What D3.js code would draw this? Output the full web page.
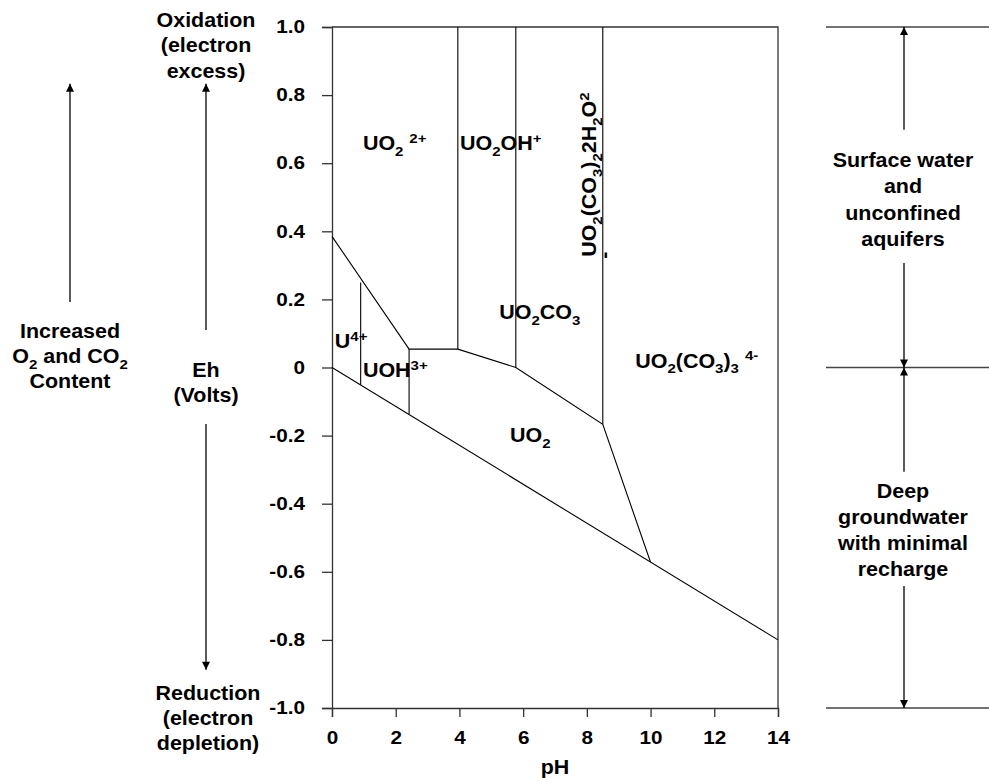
<!DOCTYPE html>
<html>
<head>
<meta charset="utf-8">
<script src="https://cdn.jsdelivr.net/npm/d3@7"></script>
<style>
  body { margin: 0; background: #fff; }
  svg text { font-family: "Liberation Sans", Arial, Helvetica, sans-serif; font-weight: bold; fill: #000; }
</style>
</head>
<body>
<div id="chart"></div>
<script>
// axis ticks
var phTicks = [0, 2, 4, 6, 8, 10, 12, 14];
var ehTicks = [1.0, 0.8, 0.6, 0.4, 0.2, 0, -0.2, -0.4, -0.6, -0.8, -1.0];

// stability field boundaries, [pH, Eh]
var waterLine = [[0, 0], [14, -0.8]];
var upperBoundary = [[0, 0.385], [2.42, 0.054], [3.95, 0.054], [5.77, 0], [8.5, -0.167], [10, -0.572]];
var verticalBounds = [
    [[0.9, 0.25], [0.9, -0.051]],
    [[2.42, 0.054], [2.42, -0.138]],
    [[3.95, 0.054], [3.95, 1.0]],
    [[5.77, 0], [5.77, 1.0]],
    [[8.5, -0.167], [8.5, 1.0]]
];

// species labels: pH, Eh, parts ([text, "", "sub" or "sup"])
var speciesLabels = [
    { ph: 0.97, eh: 0.639, parts: [["UO"], ["2", "sub"], [" "], ["2+", "sup"]] },
    { ph: 4.02, eh: 0.639, parts: [["UO"], ["2", "sub"], ["OH"], ["+", "sup"]] },
    { ph: 0.09, eh: 0.057, parts: [["U"], ["4+", "sup"]] },
    { ph: 0.97, eh: -0.028, parts: [["UOH"], ["3+", "sup"]] },
    { ph: 5.25, eh: 0.142, parts: [["UO"], ["2", "sub"], ["CO"], ["3", "sub"]] },
    { ph: 5.59, eh: -0.219, parts: [["UO"], ["2", "sub"]] },
    { ph: 9.52, eh: 0.0, parts: [["UO"], ["2", "sub"], ["(CO"], ["3", "sub"], [")"], ["3", "sub"], [" "], ["4-", "sup"]] }
];
var rotatedLabel = { ph: 8.3, eh: 0.325, parts: [["UO"], ["2", "sub"], ["(CO"], ["3", "sub"], [")"], ["2", "sub"], ["2H"], ["2", "sub"], ["O"], ["2", "sup"]] };

// side annotations
var leftBlocks = [
    { x: 206, lines: [[["Oxidation"]], [["(electron"]], [["excess)"]]], base: [27, 52, 78] },
    { x: 70, lines: [[["Increased"]], [["O"], ["2", "sub"], [" and CO"], ["2", "sub"]], [["Content"]]], base: [338, 363, 388] },
    { x: 206, lines: [[["Eh"]], [["(Volts)"]]], base: [377, 402] },
    { x: 208, lines: [[["Reduction"]], [["(electron"]], [["depletion)"]]], base: [700, 725, 750] },
    { x: 903, lines: [[["Surface water"]], [["and"]], [["unconfined"]], [["aquifers"]]], base: [167, 193, 220, 246] },
    { x: 903, lines: [[["Deep"]], [["groundwater"]], [["with minimal"]], [["recharge"]]], base: [498, 524, 550, 576] }
];
// arrows as [x, fromEh, toEh]
var sideArrows = [
    [70, 0.192, 0.833],
    [206, 0.11, 0.833],
    [206, -0.166, -0.888],
    [904, 0.698, 1.0],
    [904, 0.307, 0.0],
    [904, -0.306, 0.0],
    [904, -0.642, -1.0]
];
var zoneLines = [1.0, 0, -1.0];

var W = 989, H = 778;
var margin = { top: 27, left: 332, right: 211, bottom: 70 };
var fontSize = 19.5, stretch = 1.1;

var svg = d3.select("#chart").append("svg")
    .attr("width", W)
    .attr("height", H);

var x = d3.scaleLinear().domain([0, 14]).range([margin.left, W - margin.right]);
var y = d3.scaleLinear().domain([-1, 1]).range([H - margin.bottom, margin.top]);

// arrow marker
svg.append("defs").append("marker")
    .attr("id", "head")
    .attr("viewBox", "0 0 10 10")
    .attr("refX", 10).attr("refY", 5)
    .attr("markerWidth", 10).attr("markerHeight", 8)
    .attr("markerUnits", "userSpaceOnUse")
    .attr("orient", "auto")
    .append("path")
    .attr("d", "M0,0 L10,5 L0,10 Z")
    .attr("fill", "#000");

function addParts(t, parts, size) {
    var shift = 0;
    parts.forEach(function(p) {
        var kind = p[1] || "";
        var target = kind == "sub" ? size * 0.3 : kind == "sup" ? -size * 0.38 : 0;
        t.append("tspan")
            .attr("dy", target - shift)
            .style("font-size", kind ? (size * 0.7) + "px" : size + "px")
            .text(p[0]);
        shift = target;
    });
}

function label(g, px, py, parts, anchor, rotate) {
    var t = g.append("text")
        .attr("transform", "translate(" + px + "," + py + ")" + (rotate ? " rotate(" + rotate + ")" : "") + " scale(" + stretch + ",1)")
        .attr("text-anchor", anchor || "start");
    addParts(t, parts, fontSize);
    return t;
}

// axes
var yAxis = d3.axisLeft(y)
    .tickValues(ehTicks)
    .tickSize(10)
    .tickPadding(0)
    .tickFormat(function(d) { return d === 0 ? "0" : d.toFixed(1); });

var xAxis = d3.axisBottom(x)
    .tickValues(phTicks)
    .tickSize(9)
    .tickPadding(14);

var gy = svg.append("g")
    .attr("transform", "translate(" + margin.left + ",0)")
    .call(yAxis);
gy.selectAll("text")
    .attr("x", 0)
    .attr("transform", "translate(-27,0) scale(1.15,1)");

var gx = svg.append("g")
    .attr("transform", "translate(0," + (H - margin.bottom) + ")")
    .call(xAxis);
gx.selectAll("text")
    .attr("transform", "scale(1.15,1)");

svg.selectAll(".tick text")
    .style("font-size", "18px")
    .style("font-family", "'Liberation Sans', Arial, sans-serif")
    .style("font-weight", "bold");
svg.selectAll(".domain, .tick line").attr("stroke", "#333").attr("stroke-width", 1.3);

// plot frame (top and right)
svg.append("path")
    .attr("d", "M" + x(0) + "," + y(1) + "H" + x(14) + "V" + y(-1))
    .attr("fill", "none")
    .attr("stroke", "#333")
    .attr("stroke-width", 1.3);

var line = d3.line()
    .x(function(d) { return x(d[0]); })
    .y(function(d) { return y(d[1]); });

var plot = svg.append("g").attr("fill", "none").attr("stroke", "#000").attr("stroke-width", 1.1);
plot.append("path").attr("d", line(waterLine));
plot.append("path").attr("d", line(upperBoundary));
plot.selectAll(".vb").data(verticalBounds).enter().append("path")
    .attr("class", "vb")
    .attr("d", line);

// species labels
var lab = svg.append("g");
speciesLabels.forEach(function(d) {
    label(lab, x(d.ph), y(d.eh), d.parts);
});
label(lab, x(rotatedLabel.ph), y(rotatedLabel.eh), rotatedLabel.parts, "start", -90);
label(lab, x(rotatedLabel.ph) + 15, y(rotatedLabel.eh) + 2, [["-"]], "start", -90);

// pH axis title
label(svg, x(7), 774, [["pH"]], "middle");

// right side zone lines
svg.selectAll(".zone").data(zoneLines).enter().append("line")
    .attr("class", "zone")
    .attr("x1", 826).attr("x2", W)
    .attr("y1", function(d) { return y(d); })
    .attr("y2", function(d) { return y(d); })
    .attr("stroke", "#444")
    .attr("stroke-width", 1.3);

// side arrows
svg.selectAll(".arrow").data(sideArrows).enter().append("line")
    .attr("class", "arrow")
    .attr("x1", function(d) { return d[0]; })
    .attr("x2", function(d) { return d[0]; })
    .attr("y1", function(d) { return y(d[1]); })
    .attr("y2", function(d) { return y(d[2]); })
    .attr("stroke", "#000")
    .attr("stroke-width", 1.3)
    .attr("marker-end", "url(#head)");

// side text blocks
leftBlocks.forEach(function(b) {
    b.lines.forEach(function(parts, i) {
        label(svg, b.x, b.base[i], parts, "middle");
    });
});
</script>
</body>
</html>
